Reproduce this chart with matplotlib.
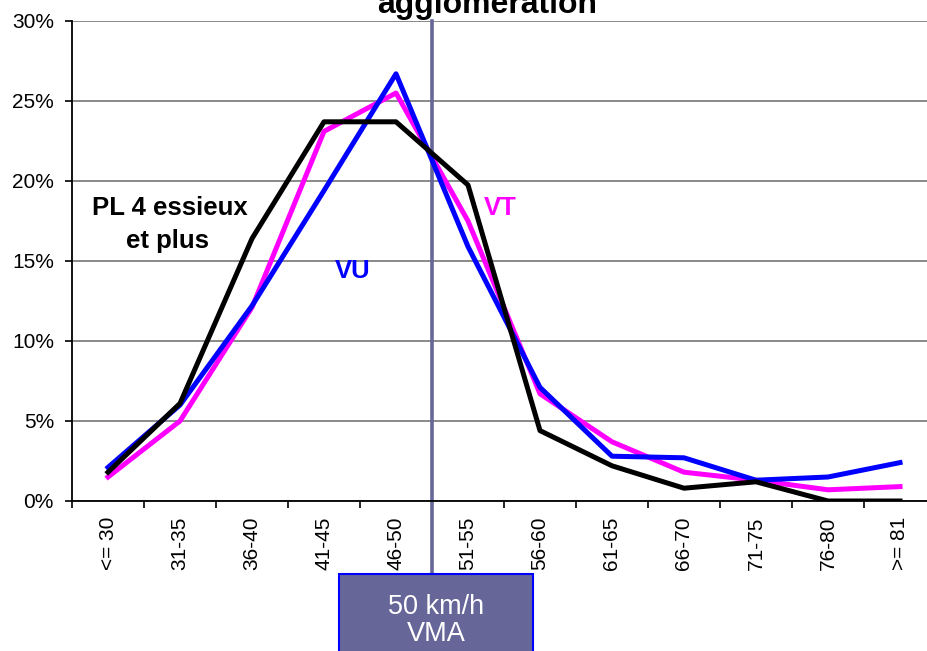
"""Speed distribution by vehicle class, urban area (50 km/h limit)."""
import matplotlib
matplotlib.use("Agg")
import matplotlib.pyplot as plt
import matplotlib.patches as mpatches
from matplotlib.ticker import FuncFormatter, FixedLocator
import numpy as np

plt.rcParams["font.family"] = ["Liberation Sans", "DejaVu Sans"]

# ── Data (% of vehicles per speed class) ──────────────────────────────────────
CLASSES = ["<= 30", "31-35", "36-40", "41-45", "46-50", "51-55",
           "56-60", "61-65", "66-70", "71-75", "76-80", ">= 81"]
VT = [1.5, 5.0, 12.1, 23.1, 25.5, 17.5, 6.7, 3.7, 1.8, 1.3, 0.7, 0.9]
VU = [2.1, 6.0, 12.2, 19.4, 26.7, 15.9, 7.1, 2.8, 2.7, 1.3, 1.5, 2.4]
PL = [1.8, 6.1, 16.4, 23.7, 23.7, 19.75, 4.4, 2.2, 0.8, 1.2, 0.0, 0.0]
VMA_POS = 4.5          # boundary between 46-50 and 51-55

W, H = 928, 651


def fx(px):
    return px / W


def fy(py):
    return 1 - py / H


# ── Plot ──────────────────────────────────────────────────────────────────────
fig = plt.figure(figsize=(W / 100, H / 100), dpi=100)
fig.patch.set_facecolor("white")
ax = fig.add_axes([fx(72), fy(501), fx(936) - fx(72), fy(21) - fy(501)])

x = np.arange(len(CLASSES))
ax.plot(x, VT, color="#FF00FF", lw=3.6, zorder=3)
ax.plot(x, VU, color="#0000FF", lw=3.6, zorder=4)
ax.plot(x, PL, color="black", lw=3.6, zorder=5)

ax.set_xlim(-0.5, len(CLASSES) - 0.5)
ax.set_ylim(0, 30)

# y axis
ax.set_yticks(np.arange(0, 31, 5))
ax.yaxis.set_major_formatter(FuncFormatter(lambda v, _: f"{v:.0f}%"))
ax.tick_params(axis="y", direction="out", length=5, width=1.2, pad=8,
               labelsize=15, colors="black")
ax.yaxis.grid(True, color="#808080", lw=1.3, zorder=0)
ax.set_axisbelow(True)

# x axis: ticks between classes, labels centred
ax.xaxis.set_major_locator(FixedLocator(np.arange(-0.5, len(CLASSES), 1.0)))
ax.xaxis.set_minor_locator(FixedLocator(x))
ax.set_xticklabels([], minor=False)
ax.set_xticklabels(CLASSES, minor=True, rotation=90, fontsize=15)
ax.tick_params(axis="x", which="major", direction="out", length=5, width=1.2)
ax.tick_params(axis="x", which="minor", length=0, pad=11)

for side in ("top", "right"):
    ax.spines[side].set_visible(False)
for side in ("left", "bottom"):
    ax.spines[side].set_linewidth(1.3)
    ax.spines[side].set_color("black")

# VMA line and box
ax.axvline(VMA_POS, ymin=(501 - 574) / 480, ymax=1, color="#666699",
           lw=2.6, clip_on=False, zorder=2)
fig.patches.append(mpatches.Rectangle(
    (fx(339), fy(700)), fx(533) - fx(339), fy(574) - fy(700),
    transform=fig.transFigure, facecolor="#666699", edgecolor="#0000FF",
    lw=1.5, zorder=5))
fig.text(fx(436), fy(607), "50 km/h", color="white", fontsize=19.5,
         ha="center", va="center", zorder=6)
fig.text(fx(436), fy(634), "VMA", color="white", fontsize=19.5,
         ha="center", va="center", zorder=6)

# Series labels
fig.text(fx(170), fy(215), "PL 4 essieux", fontsize=18.5, fontweight="bold",
         ha="center", va="baseline")
fig.text(fx(168), fy(248), "et plus", fontsize=18.5, fontweight="bold",
         ha="center", va="baseline")
fig.text(fx(500), fy(215), "VT", fontsize=18.5, fontweight="bold",
         color="#FF00FF", ha="center", va="baseline")
fig.text(fx(353), fy(278), "VU", fontsize=18.5, fontweight="bold",
         color="#0000FF", ha="center", va="baseline")

# Title (cut at the top edge, as in the source)
fig.text(fx(487), fy(13), "agglomeration", fontsize=23, fontweight="bold",
         ha="center", va="baseline")

fig.savefig("out.png", dpi=100, facecolor=fig.get_facecolor())
